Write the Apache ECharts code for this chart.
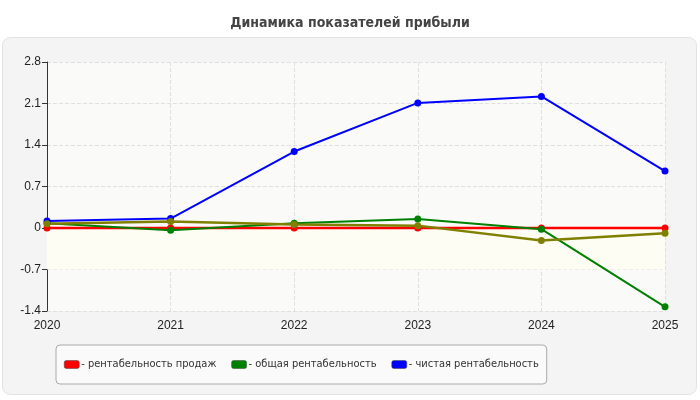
<!DOCTYPE html>
<html>
<head>
<meta charset="utf-8">
<script src="https://cdn.jsdelivr.net/npm/echarts@6/dist/echarts.min.js"></script>
<style>
  html, body { margin: 0; padding: 0; background: #fff; }
  #chart { width: 700px; height: 400px; }
</style>
</head>
<body>
<div id="chart"></div>
<script>
// годы
var years = ['2020', '2021', '2022', '2023', '2024', '2025'];
// значения показателей
var salesProfit = [0, 0, 0, 0, 0, 0];
var totalProfit = [0.08, -0.04, 0.08, 0.15, -0.02, -1.33];
var netProfit = [0.12, 0.16, 1.29, 2.11, 2.22, 0.96];
var extraLine = [0.07, 0.11, 0.06, 0.04, -0.21, -0.09];
var yTicks = [-1.4, -0.7, 0, 0.7, 1.4, 2.1, 2.8];

var narrow = 'DejaVu Sans Condensed';

var chart = echarts.init(document.getElementById('chart'));

function lineSeries(name, data, color, width) {
  return {
    name: name,
    type: 'line',
    data: data,
    symbol: 'circle',
    symbolSize: 7,
    lineStyle: { color: color, width: width },
    itemStyle: { color: color },
    animation: false
  };
}

var salesSeries = lineSeries('рентабельность продаж', salesProfit, '#ff0000', 2.5);
// полоса между 0 и -0.7
salesSeries.markArea = {
  silent: true,
  itemStyle: { color: '#fdfdf4' },
  data: [[{ yAxis: -0.7 }, { yAxis: 0 }]]
};

var option = {
  backgroundColor: '#ffffff',
  title: {
    text: 'Динамика показателей прибыли',
    left: 'center',
    top: 11,
    textStyle: { fontFamily: narrow, fontSize: 14, fontWeight: 'bold', color: '#444' }
  },
  graphic: [{
    type: 'rect',
    z: -10,
    shape: { x: 2.5, y: 37.5, width: 694, height: 357, r: 8 },
    style: { fill: '#f4f4f4', stroke: '#e2e2e2', lineWidth: 1 }
  }],
  grid: {
    left: 47, right: 35, top: 62, bottom: 89,
    show: true, backgroundColor: '#fafaf8', borderWidth: 0
  },
  legend: {
    data: ['рентабельность продаж', 'общая рентабельность', 'чистая рентабельность'],
    left: 56, top: 345,
    padding: [14, 8, 14, 8],
    itemGap: 15,
    backgroundColor: '#fafafa',
    borderColor: '#aaa', borderWidth: 1, borderRadius: 4,
    itemWidth: 15, itemHeight: 8,
    icon: 'roundRect',
    itemStyle: { borderColor: '#444', borderWidth: 0.5 },
    formatter: function (n) { return '- ' + n; },
    textStyle: { fontFamily: narrow, fontSize: 11, color: '#333', padding: [0, 0, 0, -3] }
  },
  xAxis: {
    type: 'category',
    data: years,
    boundaryGap: false,
    axisLine: { lineStyle: { color: '#333' } },
    axisTick: { show: true, lineStyle: { color: '#333' } },
    axisLabel: { color: '#222', fontSize: 12, fontFamily: 'Liberation Sans', margin: 9 },
    splitLine: { show: true, lineStyle: { color: '#e0e0e0', type: 'dashed' } }
  },
  yAxis: {
    type: 'value',
    min: yTicks[0], max: yTicks[yTicks.length - 1], interval: 0.7,
    axisLine: { show: true, lineStyle: { color: '#333' } },
    axisTick: { show: true, lineStyle: { color: '#333' } },
    axisLabel: {
      color: '#222', fontSize: 12, fontFamily: 'Liberation Sans', margin: 6,
      formatter: function (v) { return String(Math.round(v * 10) / 10); }
    },
    splitLine: { show: true, lineStyle: { color: '#e0e0e0', type: 'dashed' } }
  },
  series: [
    salesSeries,
    lineSeries('общая рентабельность', totalProfit, '#008000', 2),
    lineSeries('чистая рентабельность', netProfit, '#0000ff', 2),
    lineSeries('прочее', extraLine, '#808000', 2.5)
  ]
};
chart.setOption(option);
</script>
</body>
</html>
